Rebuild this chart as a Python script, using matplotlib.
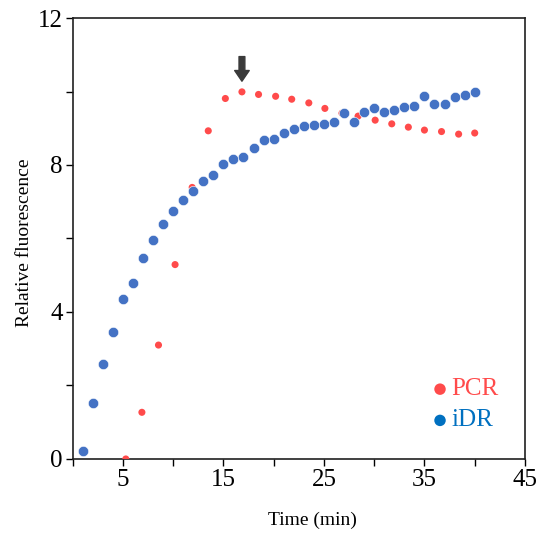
import matplotlib
matplotlib.use("Agg")
import matplotlib.pyplot as plt

# iDR: one reading per minute
idr_time = list(range(1, 41))
idr_fluo = [0.21, 1.52, 2.59, 3.45, 4.34, 4.80, 5.47, 5.95, 6.39, 6.74,
            7.06, 7.30, 7.57, 7.74, 8.04, 8.15, 8.21, 8.46, 8.67, 8.72,
            8.88, 8.98, 9.06, 9.10, 9.12, 9.16, 9.41, 9.18, 9.44, 9.56,
            9.44, 9.51, 9.58, 9.61, 9.88, 9.67, 9.67, 9.84, 9.90, 9.98]

# PCR: one reading per cycle
pcr_time = [5.3, 6.9, 8.55, 10.2, 11.9, 13.5, 15.2, 16.85, 18.5, 20.2, 21.8,
            23.5, 25.1, 26.8, 28.4, 30.1, 31.75, 33.4, 35.0, 36.7, 38.4, 40.0]
pcr_fluo = [0.0, 1.27, 3.10, 5.29, 7.39, 8.93, 9.81, 9.99, 9.92, 9.87, 9.79,
            9.69, 9.54, 9.41, 9.33, 9.22, 9.12, 9.03, 8.95, 8.91, 8.84, 8.87]

plt.rcParams['font.family'] = ['Liberation Serif', 'DejaVu Serif']

fig = plt.figure(figsize=(5.38, 5.36), dpi=100)
ax = fig.add_axes([0.1348, 0.1437, 0.8410, 0.8227])

ax.scatter(pcr_time, pcr_fluo, s=26, color='#FF4B4B', edgecolors='none', zorder=3)
ax.scatter(idr_time, idr_fluo, s=55, color='#4472C4', edgecolors='white',
           linewidths=0.4, zorder=4)

# arrow above the PCR peak
ax.annotate('', xy=(16.85, 10.28), xytext=(16.85, 10.95),
            arrowprops=dict(arrowstyle='simple,head_width=0.75,head_length=0.55,tail_width=0.3',
                            color='#3a3a3a', mutation_scale=14, shrinkA=0, shrinkB=0))

# legend drawn by hand
ax.scatter([36.55], [1.9], s=68, color='#FF4B4B', edgecolors='none')
ax.scatter([36.55], [1.05], s=68, color='#0070C0', edgecolors='none')
ax.text(37.7, 1.9, 'PCR', color='#FF4B4B', fontsize=18, va='center', ha='left')
ax.text(37.7, 1.05, 'iDR', color='#0070C0', fontsize=18, va='center', ha='left')

ax.set_xlim(0, 45)
ax.set_ylim(0, 12)
ax.set_xticks(range(0, 46, 5))
ax.set_xticklabels(['' if t in (0, 10, 20, 30, 40) else str(t) for t in range(0, 46, 5)])
ax.set_yticks(range(0, 13, 2))
ax.set_yticklabels([str(t) if t % 4 == 0 else '' for t in range(0, 13, 2)])
ax.tick_params(axis='both', direction='out', length=5, width=1, labelsize=18, pad=2)

for side in ['left', 'bottom', 'top', 'right']:
    ax.spines[side].set_linewidth(1.2)
    ax.spines[side].set_color('#202020')

ax.set_xlabel('Time (min)', fontsize=14)
ax.xaxis.set_label_coords(0.531, -0.12)
ax.set_ylabel('Relative fluorescence', fontsize=14)
ax.yaxis.set_label_coords(-0.088, 0.49)

fig.savefig('out.png', dpi=100)
